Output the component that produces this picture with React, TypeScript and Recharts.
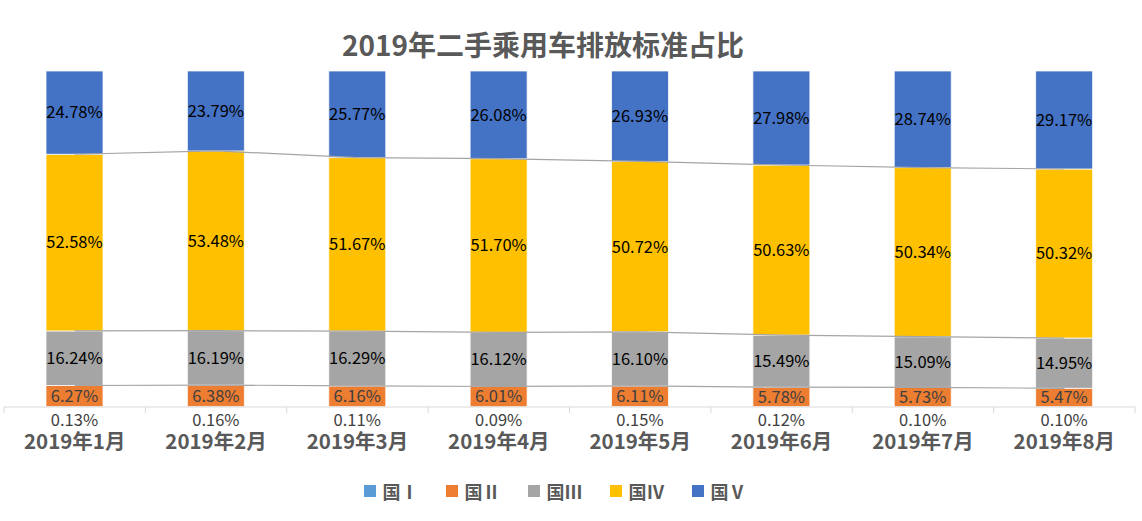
import React from 'react';
import { ComposedChart, Bar, Line, XAxis, YAxis, LabelList } from 'recharts';

const months = ['2019年1月', '2019年2月', '2019年3月', '2019年4月', '2019年5月', '2019年6月', '2019年7月', '2019年8月'];
const guo1 = [0.13, 0.16, 0.11, 0.09, 0.15, 0.12, 0.10, 0.10];
const guo2 = [6.27, 6.38, 6.16, 6.01, 6.11, 5.78, 5.73, 5.47];
const guo3 = [16.24, 16.19, 16.29, 16.12, 16.10, 15.49, 15.09, 14.95];
const guo4 = [52.58, 53.48, 51.67, 51.70, 50.72, 50.63, 50.34, 50.32];
const guo5 = [24.78, 23.79, 25.77, 26.08, 26.93, 27.98, 28.74, 29.17];

const seriesNames = ['国Ⅰ', '国Ⅱ', '国Ⅲ', '国Ⅳ', '国Ⅴ'];
const seriesColors = ['#5B9BD5', '#ED7D31', '#A5A5A5', '#FFC000', '#4472C4'];

const data = months.map((m, i) => ({
  month: m,
  g1: guo1[i],
  g2: guo2[i],
  g3: guo3[i],
  g4: guo4[i],
  g5: guo5[i],
  c2: guo1[i] + guo2[i],
  c3: guo1[i] + guo2[i] + guo3[i],
  c4: guo1[i] + guo2[i] + guo3[i] + guo4[i],
}));

const W = 1142;
const H = 521;
const M = { top: 71, right: 7, bottom: 0, left: 4 };
const BAND = (W - M.left - M.right) / months.length;
const FONT = '"Noto Sans CJK SC", "Noto Sans", sans-serif';
const fmt = (v: number) => v.toFixed(2) + '%';

const Tick = (props: any) => {
  const { x, y, payload, index } = props;
  return (
    <g>
      <line x1={x - BAND / 2} x2={x - BAND / 2} y1={y} y2={y + 6} stroke="#D9D9D9" />
      {index === months.length - 1 && (
        <line x1={x + BAND / 2} x2={x + BAND / 2} y1={y} y2={y + 6} stroke="#D9D9D9" />
      )}
      <text x={x} y={y + 33} textAnchor="middle" dominantBaseline="central" fontFamily={FONT} fontWeight="bold" fontSize={20.5} fill="#595959">
        {payload.value}
      </text>
    </g>
  );
};

const BelowLabel = (props: any) => {
  const { x, y, width, height, value } = props;
  return (
    <text x={x + width / 2} y={y + height + 11.5} textAnchor="middle" dominantBaseline="central" fontFamily={FONT} fontSize={16.5} fill="#404040">
      {fmt(value)}
    </text>
  );
};

export default function App() {
  return (
    <div style={{ position: 'absolute', left: 0, top: 0, width: W, height: H, background: '#fff' }}>
      <ComposedChart width={W} height={H} data={data} margin={M}>
        <XAxis dataKey="month" axisLine={{ stroke: '#D9D9D9' }} tickLine={false} tickSize={0} tickMargin={0} height={114} tick={<Tick />} interval={0} />
        <YAxis hide domain={[0, 100]} allowDataOverflow />
        <Line dataKey="c2" stroke="#A5A5A5" strokeWidth={1.2} dot={false} activeDot={false} isAnimationActive={false} />
        <Line dataKey="c3" stroke="#A5A5A5" strokeWidth={1.2} dot={false} activeDot={false} isAnimationActive={false} />
        <Line dataKey="c4" stroke="#A5A5A5" strokeWidth={1.2} dot={false} activeDot={false} isAnimationActive={false} />
        <Bar dataKey="g1" stackId="a" fill={seriesColors[0]} barSize={57} isAnimationActive={false}>
          <LabelList dataKey="g1" content={<BelowLabel />} />
        </Bar>
        <Bar dataKey="g2" stackId="a" fill={seriesColors[1]} stroke="#fff" strokeWidth={0.75} barSize={57} isAnimationActive={false}>
          <LabelList dataKey="g2" position="center" formatter={fmt} fill="#404040" fontFamily={FONT} fontSize={16.5} />
        </Bar>
        <Bar dataKey="g3" stackId="a" fill={seriesColors[2]} stroke="#fff" strokeWidth={0.75} barSize={57} isAnimationActive={false}>
          <LabelList dataKey="g3" position="center" formatter={fmt} fill="#000" fontFamily={FONT} fontSize={16.5} />
        </Bar>
        <Bar dataKey="g4" stackId="a" fill={seriesColors[3]} stroke="#fff" strokeWidth={0.75} barSize={57} isAnimationActive={false}>
          <LabelList dataKey="g4" position="center" formatter={fmt} fill="#000" fontFamily={FONT} fontSize={16.5} />
        </Bar>
        <Bar dataKey="g5" stackId="a" fill={seriesColors[4]} stroke="#fff" strokeWidth={0.75} barSize={57} isAnimationActive={false}>
          <LabelList dataKey="g5" position="center" formatter={fmt} fill="#000" fontFamily={FONT} fontSize={16.5} />
        </Bar>
      </ComposedChart>
      <div style={{ position: 'absolute', left: 0, top: 24, width: 1086, textAlign: 'center', fontFamily: FONT, fontWeight: 'bold', fontSize: 28, color: '#595959', lineHeight: '40px' }}>
        2019年二手乘用车排放标准占比
      </div>
      <div style={{ position: 'absolute', left: 0, top: 478, width: 1110, display: 'flex', justifyContent: 'center', fontFamily: FONT, fontWeight: 'bold', fontSize: 18, color: '#595959' }}>
        {seriesNames.map((n, i) => (
          <div key={n} style={{ display: 'flex', alignItems: 'center', marginRight: i < seriesNames.length - 1 ? 27 : 0 }}>
            <span style={{ display: 'inline-block', width: 12, height: 12, background: seriesColors[i], marginRight: 7 }} />
            <span>{n}</span>
          </div>
        ))}
      </div>
    </div>
  );
}
